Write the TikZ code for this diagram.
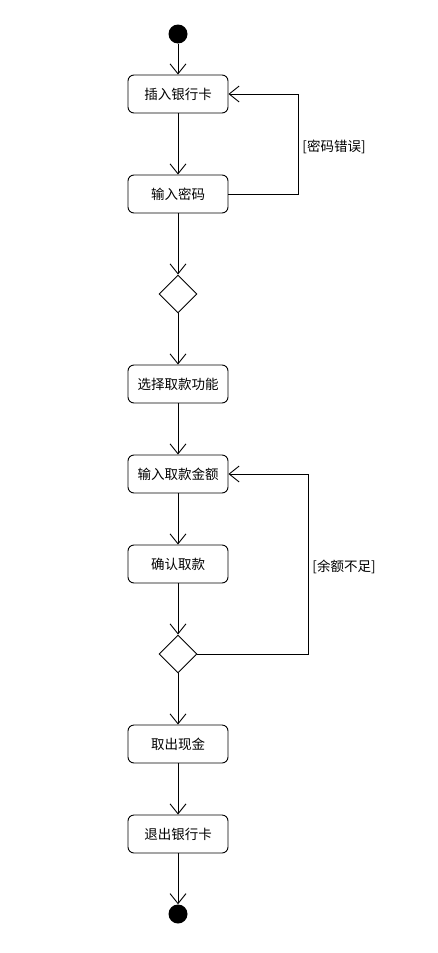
\documentclass[tikz,border=0pt]{standalone}
\usepackage{fontspec}
\setmainfont{Noto Sans CJK SC}
\usetikzlibrary{arrows.meta,shapes.geometric}
\begin{document}
\begin{tikzpicture}[x=1pt,y=-1pt,
  act/.style={draw,rounded corners=6pt,minimum width=100pt,minimum height=38pt,inner sep=0pt,font=\fontsize{13.5}{15}\selectfont,line width=0.9pt},
  dec/.style={draw,diamond,minimum width=38pt,minimum height=38pt,inner sep=0pt,line width=0.9pt},
  dot/.style={circle,fill=black,minimum size=19pt,inner sep=0pt},
  flow/.style={line width=0.9pt,-{Straight Barb[length=10pt,width=16pt,line width=0.9pt]}},
  guard/.style={font=\fontsize{13.5}{15}\selectfont,inner sep=0pt}]
\useasboundingbox (0,0) rectangle (438,953);
\node[dot] (start) at (178,34) {};
\node[act] (a1) at (178,94) {插入银行卡};
\node[act] (a2) at (178,194) {输入密码};
\node[dec] (d1) at (178,294) {};
\node[act] (a3) at (178,384) {选择取款功能};
\node[act] (a4) at (178,474) {输入取款金额};
\node[act] (a5) at (178,564) {确认取款};
\node[dec] (d2) at (178,654) {};
\node[act] (a6) at (178,744) {取出现金};
\node[act] (a7) at (178,834) {退出银行卡};
\node[dot] (end) at (178,914) {};
\draw[flow] (start) -- (a1);
\draw[flow] (a1) -- (a2);
\draw[flow] (a2) -- (d1);
\draw[flow] (d1) -- (a3);
\draw[flow] (a3) -- (a4);
\draw[flow] (a4) -- (a5);
\draw[flow] (a5) -- (d2);
\draw[flow] (d2) -- (a6);
\draw[flow] (a6) -- (a7);
\draw[flow] (a7) -- (end);
\draw[flow] (a2.east) -- (298,194) -- (298,94) -- (a1.east);
\draw[flow] (d2.east) -- (308,654) -- (308,474) -- (a4.east);
\node[guard] (g1) at (334,147) {[密码错误]};
\node[guard] (g2) at (344,567) {[余额不足]};
\end{tikzpicture}
\end{document}
